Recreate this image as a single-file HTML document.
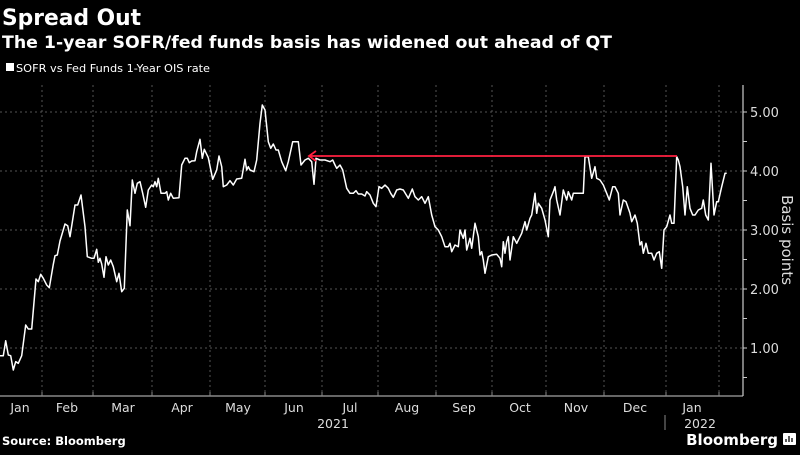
<!DOCTYPE html>
<html><head><meta charset="utf-8"><style>
html,body{margin:0;padding:0;background:#000;}
body{width:800px;height:450px;overflow:hidden;}
text{font-family:"DejaVu Sans","Liberation Sans",sans-serif;}
</style></head><body>
<svg id="s" width="800" height="450" viewBox="0 0 800 450" xmlns="http://www.w3.org/2000/svg">
<rect width="800" height="450" fill="#000"/>
<text x="2" y="25" font-size="22" font-weight="bold" fill="#fff" textLength="139" lengthAdjust="spacingAndGlyphs">Spread Out</text>
<text x="2" y="48" font-size="16.5" font-weight="bold" fill="#fff" textLength="610" lengthAdjust="spacingAndGlyphs">The 1-year SOFR/fed funds basis has widened out ahead of QT</text>
<rect x="6" y="63" width="8" height="8" fill="#fff"/>
<text x="16" y="72" font-size="11" fill="#fff" textLength="194" lengthAdjust="spacingAndGlyphs">SOFR vs Fed Funds 1-Year OIS rate</text>
<g id="grid" stroke="#555" stroke-width="1" stroke-dasharray="2,3"></g>
<line x1="0" y1="396" x2="743" y2="396" stroke="#888" stroke-width="1.5"/>
<line x1="743" y1="85" x2="743" y2="396" stroke="#ccc" stroke-width="1.2"/>
<g id="ticks" stroke="#ccc"></g>
<g font-size="13" fill="#ddd" text-anchor="start">
<text x="750" y="117">5.00</text><text x="750" y="176">4.00</text><text x="750" y="235">3.00</text>
<text x="750" y="294">2.00</text><text x="750" y="353">1.00</text>
</g>
<text transform="translate(782,240) rotate(90)" font-size="15" fill="#ddd" text-anchor="middle">Basis points</text>
<g font-size="12.5" fill="#ddd" text-anchor="middle">
<text x="20" y="412">Jan</text><text x="67" y="412">Feb</text><text x="123" y="412">Mar</text>
<text x="182" y="412">Apr</text><text x="238" y="412">May</text><text x="294" y="412">Jun</text>
<text x="350" y="412">Jul</text><text x="407" y="412">Aug</text><text x="464" y="412">Sep</text>
<text x="520" y="412">Oct</text><text x="576" y="412">Nov</text><text x="635" y="412">Dec</text>
<text x="692" y="412">Jan</text>
<text x="333" y="428">2021</text><text x="700" y="428">2022</text>
</g>
<line x1="665" y1="415" x2="665" y2="430" stroke="#888"/>
<text x="2" y="445" font-size="11.5" font-weight="bold" fill="#fff">Source: Bloomberg</text>
<text x="778" y="445" font-size="15" font-weight="bold" fill="#fff" text-anchor="end">Bloomberg</text>
<rect x="783" y="433" width="13" height="12" fill="#fff" rx="1"/>
<path d="M786 442v-3M789 442v-6M792 442v-4" stroke="#000" stroke-width="1.3"/>
<polyline id="line" fill="none" stroke="#fff" stroke-width="1.5" stroke-linejoin="round"/>
<line x1="309" y1="156" x2="677" y2="156" stroke="#ff2040" stroke-width="1.8"/>
<polyline points="316,151 309,156 316,161" fill="none" stroke="#ff2040" stroke-width="1.8"/>
</svg>
<script>
var NS="http://www.w3.org/2000/svg";
var g=document.getElementById('grid');
[42,93,152,210,265,322,378,436,492,546,604,666,719].forEach(function(x){var l=document.createElementNS(NS,'line');l.setAttribute('x1',x);l.setAttribute('x2',x);l.setAttribute('y1',85);l.setAttribute('y2',396);g.appendChild(l);});
[112,171,230,289,348].forEach(function(y){var l=document.createElementNS(NS,'line');l.setAttribute('x1',0);l.setAttribute('x2',743);l.setAttribute('y1',y);l.setAttribute('y2',y);g.appendChild(l);});
var t=document.getElementById('ticks');
for(var v=0.5;v<=5.01;v+=0.5){var y=407-59*v;var l=document.createElementNS(NS,'line');l.setAttribute('x1',743);l.setAttribute('x2',747);l.setAttribute('y1',y);l.setAttribute('y2',y);t.appendChild(l);}
[42,93,152,210,265,322,378,436,492,546,604,666,719].forEach(function(x){var l=document.createElementNS(NS,'line');l.setAttribute('x1',x);l.setAttribute('x2',x);l.setAttribute('y1',392);l.setAttribute('y2',396);l.setAttribute('stroke','#888');t.appendChild(l);});
var a=[[0,797],[10,797],[17,752],[25,795],[32,797],[40,840],[47,815],[55,820],[65,797],[77,705],[85,717],[95,717],[108,567],[115,575],[122,553],[130,565],[140,585],[148,593],[160,523],[165,497],[172,495],[180,453],[195,402],[203,407],[210,440],[225,345],[233,345],[243,315],[255,410],[262,500],[275,505],[282,505],[290,478],[295,517],[300,505],[305,522],[312,562],[318,500],[325,525],[332,510],[340,530],[350,575],[357,550],[365,605],[373,595],[382,360],[390,407],[397,270],[405,310],[412,280],[420,275],[428,310],[437,352],[445,300],[455,285],[460,290],[465,275],[470,290],[475,265],[483,310],[495,310],[500,305],[505,330],[512,310],[520,325],[537,323],[545,225],[555,205],[562,205],[568,218],[575,213],[585,212],[590,185],[600,148],[607,205],[613,178],[625,203],[638,268],[650,240],[657,198],[665,230],[670,290],[680,285],[690,272],[700,285],[710,267],[725,265],[735,208],[740,240],[745,230],[750,240],[762,245],[770,210],[780,100],[787,45],[795,60],[805,155],[812,175],[820,162],[828,180],[835,180],[845,215],[857,242],[865,215],[878,155],[895,155],[903,225],[915,210],[925,205],[935,215],[942,283],[948,205],[960,210],[975,210],[990,215],[998,210],[1005,225],[1010,235],[1020,225],[1028,240],[1040,295],[1050,310],[1060,310],[1068,302],[1075,312],[1085,312],[1095,318],[1100,305],[1110,315],[1120,340],[1128,350],[1137,290],[1145,295],[1155,285],[1165,295],[1172,310],[1180,322],[1190,300]];
var b=[[0,297],[10,300],[25,325],[37,297],[45,320],[55,330],[65,320],[75,340],[85,320],[95,375],[105,410],[115,420],[125,440],[135,470],[145,470],[150,460],[155,485],[165,465],[175,470],[180,420],[190,445],[195,420],[200,480],[210,445],[215,475],[225,400],[235,440],[240,495],[245,485],[250,510],[255,550],[265,500],[275,495],[290,493],[300,505],[305,530],[310,455],[315,490],[320,455],[325,440],[330,510],[340,440],[350,460],[360,440],[365,430],[375,395],[380,420],[390,385],[395,375],[405,310],[410,370],[415,340],[425,355],[435,390],[445,440],[450,330],[460,305],[465,290],[470,330],[480,375],[490,300],[500,330],[505,305],[515,330],[520,310],[530,310],[550,310],[555,200],[565,200],[575,265],[585,230],[590,265],[600,270],[610,285],[620,310],[628,330],[638,290],[645,290],[655,310],[660,375],[670,330],[678,335],[690,370],[695,395],[705,375],[712,400],[720,465],[725,455],[730,490],[738,460],[745,490],[755,490],[762,510],[770,490],[778,485],[785,535],[792,420],[800,410],[810,375],[815,400],[822,400],[830,200],[835,210],[840,230],[848,290],[855,375],[862,290],[870,355],[878,375],[885,375],[895,360],[905,355],[910,330],[917,375],[925,390],[933,220],[942,375],[950,335],[955,335],[965,290],[975,250],[980,250]];
var pts=[];
a.forEach(function(p){pts.push((p[0]/3).toFixed(1)+','+(90+p[1]/3).toFixed(1));});
b.forEach(function(p){pts.push((400+p[0]/3).toFixed(1)+','+(90+p[1]/3).toFixed(1));});
document.getElementById('line').setAttribute('points',pts.join(' '));
</script>
</body></html>
